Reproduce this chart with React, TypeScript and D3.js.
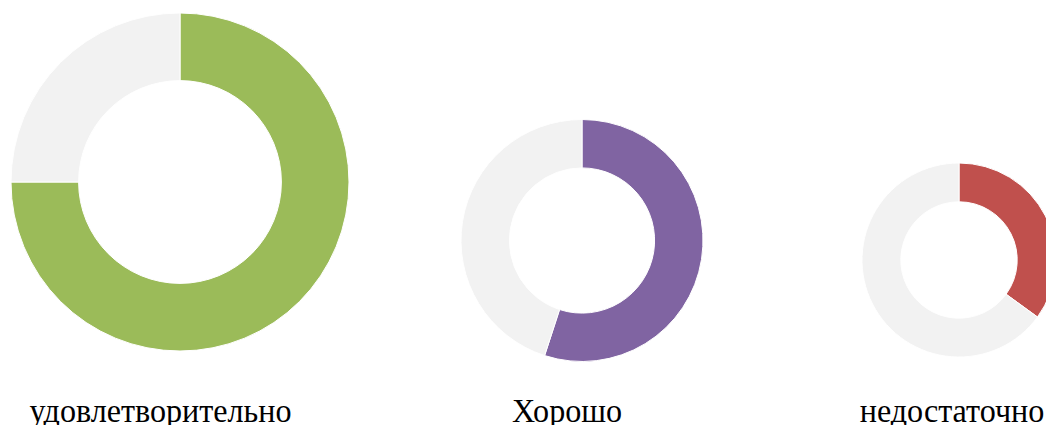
import React from "react";
import * as d3 from "d3";

const categories = ["удовлетворительно", "Хорошо", "недостаточно"];
const shares = [75, 55, 35];
const totals = [100, 100, 100];
const colors = ["#9BBB59", "#8064A2", "#C0504D"];
const restColor = "#F2F2F2";

// layout (not data)
const centersX = [180, 582, 959];
const centersY = [182, 240.5, 260];
const outerR = [169, 121, 97];
const labelX = [160.5, 567, 952];
const labelY = 421.5;
const textScaleX = 0.945;

export default function App() {
  const W = 1046, H = 425;
  const pie = d3.pie<number>().sort(null).value((d) => d);
  return (
    <svg width={W} height={H} style={{ position: "absolute", left: 0, top: 0, background: "#fff" }}>
      {categories.map((c, i) => {
        const arcs = pie([shares[i], totals[i] - shares[i]]);
        const arc = d3.arc<d3.PieArcDatum<number>>().innerRadius(outerR[i] * 0.6).outerRadius(outerR[i]);
        return (
          <g key={c} transform={`translate(${centersX[i]},${centersY[i]})`}>
            {arcs.map((a, j) => (
              <path key={j} d={arc(a) || ""} fill={j === 0 ? colors[i] : restColor} stroke="#fff" strokeWidth={1} />
            ))}
          </g>
        );
      })}
      {categories.map((c, i) => (
        <g key={c} transform={`translate(${labelX[i]},${labelY}) scale(${textScaleX},1)`}>
          <text x={0} y={0} textAnchor="middle" fontFamily="'Liberation Serif', 'Times New Roman', serif" fontSize={34} fill="#000">
            {c}
          </text>
        </g>
      ))}
    </svg>
  );
}
